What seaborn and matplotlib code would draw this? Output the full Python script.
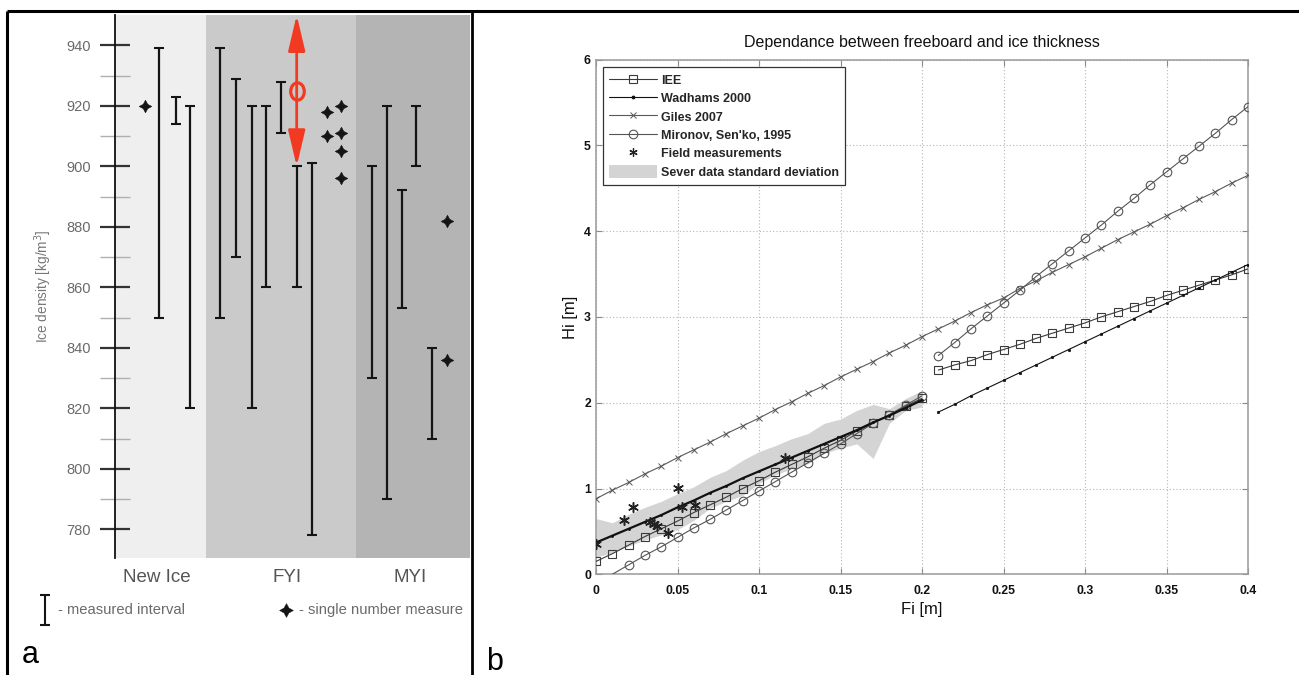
import numpy as np
import pandas as pd
import matplotlib
matplotlib.use("Agg")
import matplotlib.pyplot as plt
import seaborn as sns
from matplotlib.path import Path
from matplotlib.lines import Line2D
from matplotlib.patches import Patch
from matplotlib.transforms import Affine2D

# ---------------- Panel a: ice density ----------------
categories = ["New Ice", "FYI", "MYI"]
category_pos = [41.7, 171.7, 295.0]
category_bounds = [0.0, 90.7, 241.0, 355.0]
category_colors = ["#efefef", "#cacaca", "#b4b4b4"]

interval_x = [44.3, 60.7, 75.0, 105.0, 120.7, 136.7, 150.7, 166.0, 181.7,
              196.7, 256.7, 271.7, 286.7, 301.0, 317.0]
interval_lo = [850, 914, 820, 850, 870, 820, 860, 911, 860, 778, 830, 790, 853, 900, 810]
interval_hi = [939, 923, 920, 939, 929, 920, 920, 928, 900, 901, 900, 920, 892, 920, 840]

single_x = [30.0, 211.7, 225.7, 211.7, 225.7, 225.7, 225.7, 331.7, 331.7]
single_y = [920, 918, 920, 910, 911, 905, 896, 882, 836]

arrow_x = 181.7
arrow_lo = 900
arrow_hi = 950
arrow_mark = 925

density_major = [780, 800, 820, 840, 860, 880, 900, 920, 940]
density_minor = [790, 810, 830, 850, 870, 890, 910, 930]

# ---------------- Panel b: freeboard vs thickness ----------------
fi_1 = [0.00, 0.01, 0.02, 0.03, 0.04, 0.05, 0.06, 0.07, 0.08, 0.09, 0.10,
        0.11, 0.12, 0.13, 0.14, 0.15, 0.16, 0.17, 0.18, 0.19, 0.20]
fi_2 = [0.21, 0.22, 0.23, 0.24, 0.25, 0.26, 0.27, 0.28, 0.29, 0.30,
        0.31, 0.32, 0.33, 0.34, 0.35, 0.36, 0.37, 0.38, 0.39, 0.40]

iee_1 = [0.15, 0.24, 0.34, 0.44, 0.53, 0.62, 0.72, 0.81, 0.90, 1.00, 1.09,
         1.19, 1.28, 1.37, 1.47, 1.56, 1.67, 1.76, 1.86, 1.96, 2.05]
iee_2 = [2.38, 2.44, 2.49, 2.56, 2.62, 2.68, 2.75, 2.81, 2.87, 2.93,
         3.00, 3.06, 3.12, 3.18, 3.25, 3.31, 3.37, 3.43, 3.49, 3.56]

wadhams_1 = [0.37, 0.45, 0.53, 0.61, 0.69, 0.78, 0.86, 0.95, 1.03, 1.12, 1.20,
             1.28, 1.36, 1.44, 1.52, 1.60, 1.68, 1.77, 1.85, 1.94, 2.03]
wadhams_2 = [1.89, 1.98, 2.08, 2.17, 2.26, 2.35, 2.44, 2.53, 2.62, 2.71,
             2.80, 2.89, 2.98, 3.07, 3.16, 3.25, 3.34, 3.43, 3.52, 3.61]

fi_giles = fi_1 + fi_2
giles = [0.88, 0.98, 1.07, 1.17, 1.26, 1.36, 1.45, 1.54, 1.64, 1.73, 1.82,
         1.92, 2.01, 2.11, 2.20, 2.30, 2.39, 2.48, 2.58, 2.67, 2.77,
         2.86, 2.95, 3.05, 3.14, 3.22, 3.33, 3.42, 3.52, 3.61, 3.70,
         3.80, 3.90, 3.99, 4.08, 4.18, 4.27, 4.37, 4.46, 4.56, 4.65]

fi_mironov_1 = [0.00, 0.02, 0.03, 0.04, 0.05, 0.06, 0.07, 0.08, 0.09, 0.10,
                0.11, 0.12, 0.13, 0.14, 0.15, 0.16, 0.17, 0.18, 0.19, 0.20]
mironov_1 = [-0.11, 0.11, 0.22, 0.32, 0.43, 0.54, 0.64, 0.75, 0.86, 0.97,
             1.08, 1.19, 1.30, 1.41, 1.52, 1.64, 1.76, 1.86, 1.97, 2.08]
mironov_2 = [2.55, 2.70, 2.86, 3.01, 3.16, 3.31, 3.47, 3.62, 3.77, 3.92,
             4.07, 4.23, 4.38, 4.54, 4.69, 4.84, 4.99, 5.14, 5.30, 5.45]

field_fi = [0.000, 0.0174, 0.023, 0.0332, 0.0357, 0.0373, 0.0439, 0.050, 0.0527, 0.0605, 0.1158]
field_hi = [0.35, 0.63, 0.79, 0.61, 0.585, 0.56, 0.485, 1.01, 0.79, 0.806, 1.35]

band_upper = [0.65, 0.60, 0.70, 0.78, 0.85, 0.94, 1.02, 1.13, 1.21, 1.33, 1.43,
              1.50, 1.58, 1.64, 1.76, 1.81, 1.91, 1.98, 1.93, 2.05, 2.14]
band_lower = [0.20, 0.25, 0.33, 0.40, 0.46, 0.52, 0.63, 0.77, 0.85, 0.92, 1.06,
              1.16, 1.23, 1.29, 1.41, 1.47, 1.52, 1.35, 1.76, 1.91, 1.95]

fi_ticks = [0, 0.05, 0.1, 0.15, 0.2, 0.25, 0.3, 0.35, 0.4]
fi_ticklabels = ["0", "0.05", "0.1", "0.15", "0.2", "0.25", "0.3", "0.35", "0.4"]
hi_ticks = [0, 1, 2, 3, 4, 5, 6]

legend_labels = ["IEE", "Wadhams 2000", "Giles 2007", "Mironov, Sen'ko, 1995",
                 "Field measurements", "Sever data standard deviation"]

# ---------------- style ----------------
sns.set_theme(style="white")
plt.rcParams["font.family"] = ["Liberation Sans", "DejaVu Sans"]

W, H = 1299, 675
fig = plt.figure(figsize=(W / 100, H / 100), dpi=100)
fig.patch.set_facecolor("white")


def px_axes(left, top, right, bottom):
    return [left / W, 1 - bottom / H, (right - left) / W, (bottom - top) / H]


# ================= Panel a =================
axa = fig.add_axes(px_axes(115, 15, 470, 558))
axa.set_xlim(category_bounds[0], category_bounds[-1])
axa.set_ylim(770.5, 950.0)
for i in range(3):
    axa.axvspan(category_bounds[i], category_bounds[i + 1], color=category_colors[i], lw=0, zorder=0)

mid = (np.array(interval_lo) + np.array(interval_hi)) / 2
err = [mid - np.array(interval_lo), np.array(interval_hi) - mid]
axa.errorbar(interval_x, mid, yerr=err, fmt="none", ecolor="#141414",
             elinewidth=1.6, capsize=3.9, capthick=1.5, zorder=3)

star4 = (4, 1, 0)
sns.scatterplot(x=single_x, y=single_y, ax=axa, marker=star4, s=85,
                color="#141414", edgecolor="#141414", linewidth=0.3, zorder=4, legend=False)

axa.annotate("", xy=(arrow_x, arrow_hi), xytext=(arrow_x, arrow_lo),
             arrowprops=dict(arrowstyle="<|-|>,head_length=1.1,head_width=0.26",
                             mutation_scale=20, color="#f23a22", lw=2.0,
                             shrinkA=0, shrinkB=0), zorder=5)
ellipse = Path.unit_circle().transformed(Affine2D().scale(0.78, 1.0))
axa.plot([arrow_x], [arrow_mark], ls="none", marker=ellipse, ms=12.5,
         mfc="none", mec="#f23a22", mew=2.3, zorder=6)

for s in ["top", "right", "bottom"]:
    axa.spines[s].set_visible(False)
axa.spines["left"].set_color("#111111")
axa.spines["left"].set_linewidth(1.3)
axa.set_yticks(density_major)
axa.set_yticks(density_minor, minor=True)
axa.tick_params(axis="y", which="major", direction="inout", length=21.5, width=1.6,
                color="#333333", labelsize=10.5, labelcolor="#6a6a6a", pad=6.7, left=True)
axa.tick_params(axis="y", which="minor", direction="inout", length=21.5, width=1.0,
                color="#b0b0b0", left=True)
axa.set_xticks(category_pos)
axa.set_xticklabels(categories)
axa.tick_params(axis="x", which="both", length=0, labelsize=13.5, labelcolor="#555555", pad=8, bottom=True)
axa.set_ylabel("Ice density [kg/m$^3$]", fontsize=9.8, color="#777777")
axa.yaxis.set_label_coords(-0.172, 0.5)
axa.grid(False)

# ================= Panel b =================
axb = fig.add_axes(px_axes(596, 59.5, 1248, 574.3))
axb.set_xlim(0, 0.4)
axb.set_ylim(0, 6)

axb.fill_between(fi_1, band_lower, band_upper, color="#d4d4d4", lw=0, zorder=1)

c_iee, c_wad, c_giles, c_mir = "#3a3a3a", "#111111", "#5a5a5a", "#555555"
line_kw = dict(ax=axb, errorbar=None, legend=False, sort=False)
for fx, fy in [(fi_1, iee_1), (fi_2, iee_2)]:
    sns.lineplot(x=fx, y=fy, color=c_iee, lw=0.8, marker="s", markersize=5.2,
                 markerfacecolor="none", markeredgecolor=c_iee, markeredgewidth=0.8,
                 zorder=3, **line_kw)
sns.lineplot(x=fi_1, y=wadhams_1, color=c_wad, lw=1.6, marker=".", markersize=3,
             markerfacecolor=c_wad, markeredgecolor=c_wad, markeredgewidth=0.5, zorder=4, **line_kw)
sns.lineplot(x=fi_2, y=wadhams_2, color=c_wad, lw=0.8, marker=".", markersize=3.5,
             markerfacecolor=c_wad, markeredgecolor=c_wad, markeredgewidth=0.5, zorder=4, **line_kw)
sns.lineplot(x=fi_giles, y=giles, color=c_giles, lw=0.8, marker="x", markersize=4.5,
             markeredgecolor=c_giles, markeredgewidth=0.7, zorder=3, **line_kw)
for fx, fy in [(fi_mironov_1, mironov_1), (fi_2, mironov_2)]:
    sns.lineplot(x=fx, y=fy, color=c_mir, lw=0.8, marker="o", markersize=6.2,
                 markerfacecolor="none", markeredgecolor=c_mir, markeredgewidth=0.8,
                 zorder=3, **line_kw)
sns.scatterplot(x=field_fi, y=field_hi, ax=axb, marker=(6, 2, 0), s=48,
                color="#222222", linewidth=1.1, zorder=5, legend=False)

axb.set_xticks(fi_ticks)
axb.set_xticklabels(fi_ticklabels)
axb.set_yticks(hi_ticks)
axb.grid(True, ls=(0, (1, 2)), color="#b5b5b5", lw=0.8)
for s in axb.spines.values():
    s.set_color("#9a9a9a")
    s.set_linewidth(1.1)
axb.tick_params(axis="both", direction="in", length=4, width=0.8, color="#8a8a8a",
                top=True, right=True, bottom=True, left=True, labelsize=8.8,
                labelcolor="#111111")
axb.tick_params(axis="x", pad=8)
axb.tick_params(axis="y", pad=3.6)
for lab in axb.get_xticklabels() + axb.get_yticklabels():
    lab.set_fontweight("bold")
axb.set_title("Dependance between freeboard and ice thickness", fontsize=11.5,
              color="#111111", pad=9)
axb.set_xlabel("Fi [m]", fontsize=12, color="#111111", labelpad=3)
axb.set_ylabel("Hi [m]", fontsize=12, color="#111111", labelpad=4)

handles = [
    Line2D([], [], color=c_iee, lw=0.8, marker="s", ms=5.2, mfc="none", mec=c_iee, mew=0.8),
    Line2D([], [], color=c_wad, lw=0.8, marker=".", ms=3.5, mfc=c_wad, mec=c_wad),
    Line2D([], [], color=c_giles, lw=0.8, marker="x", ms=4.5, mec=c_giles, mew=0.7),
    Line2D([], [], color=c_mir, lw=0.8, marker="o", ms=6.2, mfc="none", mec=c_mir, mew=0.8),
    Line2D([], [], ls="none", marker=(6, 2, 0), ms=6, color="#222222", mew=0.9),
    Patch(facecolor="#d4d4d4", edgecolor="none"),
]
leg = axb.legend(handles, legend_labels, loc="upper left",
                 bbox_to_anchor=((603 - 596) / 652, 1 - (67 - 59.5) / 514.8),
                 borderaxespad=0, prop=dict(weight="bold", size=9),
                 frameon=True, fancybox=False, framealpha=1, edgecolor="#333333",
                 handlelength=3.85, handleheight=1.2, handletextpad=0.3,
                 labelspacing=0.38, borderpad=0.5)
leg.get_frame().set_linewidth(0.9)
leg.set_zorder(10)

# ================= overlay: frame lines, panel letters, panel-a key =================
ov = fig.add_axes([0, 0, 1, 1], zorder=20)
ov.set_xlim(0, W)
ov.set_ylim(H, 0)
ov.axis("off")
ov.plot([7, W], [11, 11], color="black", lw=2.2, solid_capstyle="butt")
ov.plot([7, 7], [11, H], color="black", lw=2.2, solid_capstyle="butt")
ov.plot([472, 472], [11, H], color="black", lw=2.0, solid_capstyle="butt")
ov.text(22, 663, "a", fontsize=22, color="black", ha="left", va="baseline")
ov.text(486, 670, "b", fontsize=22, color="black", ha="left", va="baseline")

ibar = Path([(-0.35, -1), (0.35, -1), (0, -1), (0, 1), (-0.35, 1), (0.35, 1)],
            [Path.MOVETO, Path.LINETO, Path.MOVETO, Path.LINETO, Path.MOVETO, Path.LINETO])
ov.plot([45], [610], ls="none", marker=ibar, ms=21, mec="#141414", mew=1.5)
ov.text(58, 610, "- measured interval", fontsize=10.6, color="#6a6a6a", ha="left", va="center")
ov.plot([285.7], [610], ls="none", marker=star4, ms=10, color="#141414", mec="#141414", mew=0.3)
ov.text(299, 610, "- single number measure", fontsize=10.6, color="#6a6a6a", ha="left", va="center")

fig.savefig("out.png", dpi=100, facecolor="white")
